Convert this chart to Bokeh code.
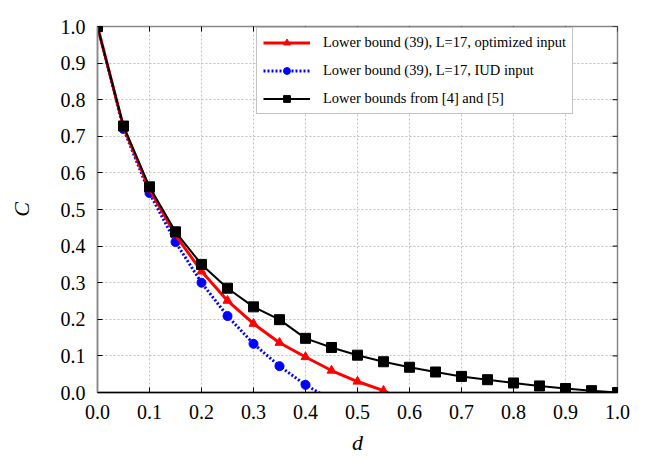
from bokeh.plotting import figure
from bokeh.models import (Range1d, FixedTicker, PrintfTickFormatter,
                          Legend, LegendItem)
from bokeh.embed import file_html
from bokeh.resources import INLINE

# ---- data ----
d_black = [0.0, 0.05, 0.1, 0.15, 0.2, 0.25, 0.3, 0.35, 0.4, 0.45, 0.5,
           0.55, 0.6, 0.65, 0.7, 0.75, 0.8, 0.85, 0.9, 0.95, 1.0]
c_black = [1.0, 0.728, 0.562, 0.439, 0.350, 0.285, 0.234, 0.199, 0.148, 0.123, 0.102,
           0.084, 0.069, 0.056, 0.044, 0.035, 0.026, 0.018, 0.011, 0.005, 0.0]

d_red = [0.0, 0.05, 0.1, 0.15, 0.2, 0.25, 0.3, 0.35, 0.4, 0.45, 0.5, 0.55, 0.6]
c_red = [1.0, 0.725, 0.555, 0.430, 0.331, 0.251, 0.188, 0.136, 0.097, 0.060, 0.030, 0.005, -0.03]

d_blue = [0.0, 0.05, 0.1, 0.15, 0.2, 0.25, 0.3, 0.35, 0.4, 0.45]
c_blue = [1.0, 0.720, 0.545, 0.411, 0.300, 0.209, 0.133, 0.072, 0.021, -0.02]

ticks = [0.0, 0.1, 0.2, 0.3, 0.4, 0.5, 0.6, 0.7, 0.8, 0.9, 1.0]
x_max = 1.0
y_max = 1.0

label_red = "Lower bound (39), L=17, optimized input"
label_blue = "Lower bound (39), L=17, IUD input"
label_black = "Lower bounds from [4] and [5]"

FONT = "'Liberation Serif', 'Times New Roman', serif"

p = figure(width=654, height=458, output_backend="svg", toolbar_location=None,
           x_range=Range1d(0, x_max), y_range=Range1d(0, y_max),
           min_border_left=97, min_border_right=37, min_border_top=26, min_border_bottom=66)
p.outline_line_color = "#888888"
p.outline_line_width = 1.5
p.background_fill_color = "white"
p.border_fill_color = "white"

for ax in (p.xaxis[0], p.yaxis[0]):
    ax.ticker = FixedTicker(ticks=ticks)
    ax.formatter = PrintfTickFormatter(format="%.1f")
    ax.major_tick_in = 5
    ax.major_tick_out = 0
    ax.minor_tick_line_color = None
    ax.major_label_text_font = FONT
    ax.major_label_text_font_size = "20px"
    ax.major_label_text_color = "black"
    ax.axis_label_text_font = FONT
    ax.axis_label_text_font_style = "italic"
    ax.axis_label_text_font_size = "22px"
    ax.axis_label_text_color = "black"
    ax.major_tick_line_color = "black"

p.xaxis[0].axis_label = "d"
p.yaxis[0].axis_label = "C"
p.xaxis[0].axis_line_color = "black"
p.xaxis[0].axis_line_width = 1.5
p.yaxis[0].axis_line_color = "#888888"
p.yaxis[0].axis_line_width = 1.5
p.xaxis[0].major_label_standoff = 12
p.xaxis[0].axis_label_standoff = 8
p.yaxis[0].major_label_standoff = 12
p.yaxis[0].axis_label_standoff = 24

p.xgrid.ticker = FixedTicker(ticks=ticks)
p.ygrid.ticker = FixedTicker(ticks=ticks)
p.grid.grid_line_color = "#c0c0c0"
p.grid.grid_line_dash = "2 2"
p.grid.grid_line_width = 1

# inward tick marks on the top and right edges (half of each dash is clipped by the frame)
p.scatter(ticks, [y_max] * len(ticks), marker="dash", angle=1.5708, size=10,
          line_color="black", line_width=1)
p.scatter([x_max] * len(ticks), ticks, marker="dash", size=10,
          line_color="black", line_width=1)

# series
lb = p.line(d_blue, c_blue, line_color="#0000ff", line_width=3, line_dash="2 2")
sb = p.scatter(d_blue, c_blue, marker="circle", size=9, fill_color="#0000ff", line_color="#0000ff")
lr = p.line(d_red, c_red, line_color="#ff0000", line_width=3)
sr = p.scatter(d_red, c_red, marker="triangle", size=9, fill_color="#ff0000", line_color="#ff0000")
lk = p.line(d_black, c_black, line_color="black", line_width=2)
sk = p.scatter(d_black, c_black, marker="square", size=10, fill_color="black", line_color="black")

legend = Legend(items=[
    LegendItem(label=label_red, renderers=[lr, sr]),
    LegendItem(label=label_blue, renderers=[lb, sb]),
    LegendItem(label=label_black, renderers=[lk, sk]),
], location=(159, 278))
legend.margin = 0
legend.padding = 6
legend.spacing = 11
legend.label_height = 17
legend.glyph_height = 17
legend.glyph_width = 47
legend.label_standoff = 13
legend.label_text_font = FONT
legend.label_text_font_size = "14.5px"
legend.label_text_color = "black"
legend.border_line_color = "#888888"
legend.border_line_width = 1.5
legend.background_fill_alpha = 1
legend.background_fill_color = "white"
p.add_layout(legend, "center")

open("out.html", "w").write(file_html(p, INLINE))
